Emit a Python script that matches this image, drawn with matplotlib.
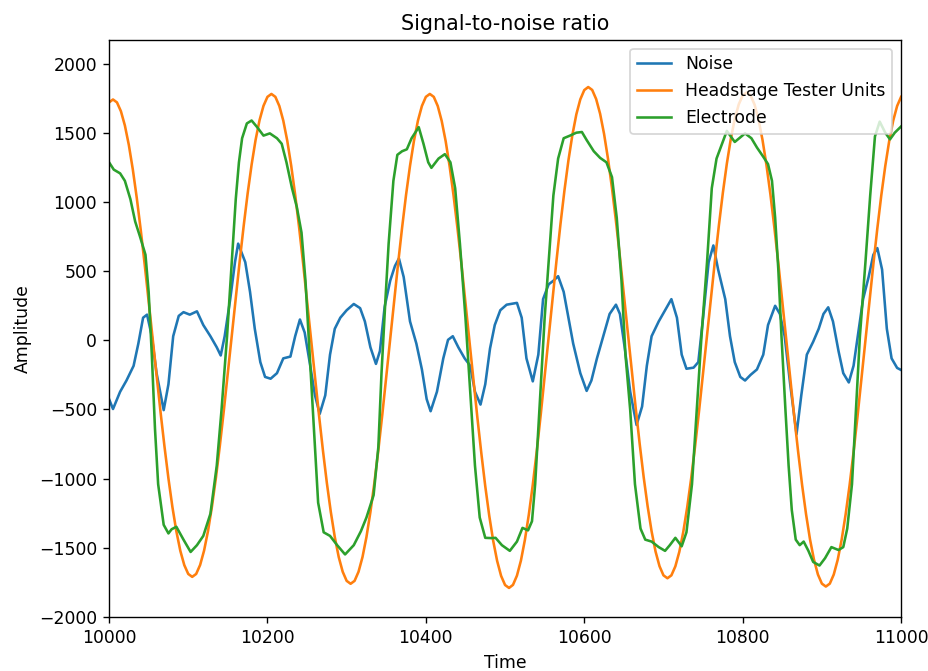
import numpy as np
import matplotlib
matplotlib.use("Agg")
import matplotlib.pyplot as plt

# Headstage tester units, sampled every 5 time units from 10000 to 11000
headstage_t = np.arange(10000, 11001, 5)
headstage = [
    1719,
    1740, 1719, 1655, 1552, 1411, 1235, 1029, 798, 548, 284, 15, -254, -518, -768, -999, -1205, -1381, -1522, -1625, -1689, -1710,
    -1689, -1624, -1520, -1377, -1199, -991, -757, -504, -237, 35, 307, 574, 827, 1061, 1269, 1447, 1590, 1694, 1759, 1780,
    1759, 1693, 1587, 1442, 1261, 1051, 814, 557, 286, 10, -266, -537, -794, -1031, -1241, -1422, -1567, -1673, -1739, -1760,
    -1739, -1673, -1567, -1422, -1241, -1031, -794, -537, -266, 10, 286, 557, 814, 1051, 1261, 1442, 1587, 1693, 1759, 1780,
    1759, 1693, 1585, 1439, 1257, 1045, 805, 547, 273, -5, -283, -557, -815, -1055, -1267, -1449, -1595, -1703, -1769, -1790,
    -1768, -1701, -1593, -1444, -1260, -1044, -802, -539, -262, 20, 302, 579, 842, 1084, 1300, 1484, 1633, 1741, 1808, 1830,
    1809, 1743, 1637, 1491, 1310, 1099, 861, 603, 332, 55, -222, -493, -751, -989, -1200, -1381, -1527, -1633, -1699, -1720,
    -1699, -1634, -1529, -1385, -1206, -997, -762, -507, -239, 35, 309, 577, 832, 1067, 1276, 1455, 1599, 1704, 1769, 1790,
    1769, 1703, 1595, 1449, 1267, 1055, 815, 557, 283, 5, -273, -547, -805, -1045, -1257, -1439, -1585, -1693, -1759, -1780,
    -1759, -1693, -1586, -1440, -1258, -1047, -808, -550, -278, 0, 278, 550, 808, 1047, 1258, 1440, 1586, 1693, 1759,
]

noise_t = [
    10000, 10005, 10014, 10022, 10031, 10037, 10043, 10048, 10054, 10060, 10069, 10075, 10081, 10088,
    10094, 10102, 10111, 10119, 10128, 10136, 10141, 10146, 10153, 10159, 10163, 10172, 10178, 10184,
    10191, 10197, 10204, 10212, 10220, 10229, 10235, 10241, 10247, 10254, 10260, 10266, 10273, 10279,
    10285, 10292, 10300, 10309, 10317, 10323, 10330, 10337, 10342, 10348, 10355, 10361, 10366, 10372,
    10380, 10388, 10395, 10401, 10406, 10414, 10422, 10428, 10434, 10441, 10449, 10456, 10462, 10469,
    10475, 10481, 10487, 10494, 10502, 10515, 10521, 10527, 10535, 10542, 10548, 10555, 10561, 10567,
    10574, 10580, 10586, 10595, 10603, 10609, 10616, 10624, 10632, 10640, 10645, 10651, 10658, 10666,
    10673, 10679, 10685, 10694, 10702, 10710, 10717, 10723, 10729, 10738, 10744, 10750, 10757, 10763,
    10769, 10778, 10784, 10790, 10797, 10803, 10810, 10818, 10826, 10832, 10841, 10847, 10853, 10860,
    10868, 10874, 10881, 10889, 10896, 10902, 10908, 10914, 10921, 10927, 10934, 10940, 10946, 10952,
    10959, 10965, 10970, 10976, 10982, 10988, 10995, 11000,
]
noise = [
    -425, -497, -372, -291, -185, -24, 163, 185, 29, -238, -505, -318, 29, 176,
    203, 185, 209, 110, 29, -51, -110, 29, 297, 564, 698, 564, 350, 83,
    -158, -265, -278, -238, -131, -118, 29, 150, 56, -184, -398, -532, -398, -104,
    83, 163, 217, 262, 232, 136, -51, -171, -78, 243, 431, 537, 591, 457,
    136, -24, -211, -425, -513, -372, -131, 3, 29, -51, -131, -184, -372, -465,
    -318, -60, 110, 217, 257, 270, 163, -131, -297, -104, 297, 404, 430, 463,
    350, 163, -24, -238, -366, -291, -131, 29, 190, 257, 190, -51, -372, -612,
    -479, -184, 29, 136, 217, 297, 163, -104, -206, -198, -158, 163, 564, 685,
    511, 297, 29, -158, -265, -291, -250, -211, -104, 110, 249, 190, 29, -318,
    -679, -398, -104, -11, 83, 190, 238, 136, -78, -238, -305, -184, 56, 297,
    457, 618, 666, 511, 83, -131, -200, -215,
]

electrode_t = [
    10000, 10006, 10014, 10020, 10027, 10033, 10039, 10046, 10050, 10054, 10058, 10062, 10069, 10075,
    10079, 10085, 10094, 10103, 10111, 10119, 10128, 10136, 10142, 10149, 10155, 10160, 10164, 10168,
    10174, 10180, 10187, 10195, 10203, 10212, 10218, 10224, 10231, 10237, 10243, 10248, 10252, 10256,
    10260, 10264, 10271, 10279, 10288, 10298, 10309, 10318, 10325, 10334, 10340, 10344, 10349, 10353,
    10359, 10364, 10370, 10376, 10382, 10391, 10397, 10403, 10407, 10416, 10424, 10431, 10437, 10443,
    10450, 10456, 10462, 10468, 10475, 10483, 10488, 10496, 10506, 10515, 10522, 10529, 10534, 10538,
    10542, 10546, 10550, 10555, 10561, 10567, 10574, 10582, 10590, 10597, 10603, 10612, 10620, 10628,
    10635, 10641, 10647, 10652, 10658, 10664, 10671, 10677, 10685, 10694, 10702, 10708, 10715, 10723,
    10729, 10736, 10742, 10748, 10755, 10761, 10767, 10774, 10780, 10790, 10803, 10811, 10818, 10826,
    10832, 10837, 10841, 10845, 10849, 10854, 10858, 10862, 10867, 10872, 10877, 10883, 10889, 10897,
    10904, 10912, 10921, 10927, 10932, 10938, 10943, 10948, 10955, 10961, 10967, 10973, 10980, 10986,
    10992, 11000,
]
electrode = [
    1286, 1233, 1206, 1152, 1019, 858, 751, 618, 350, -104, -639, -1040, -1334, -1396,
    -1366, -1348, -1441, -1530, -1481, -1414, -1254, -906, -505, 29, 564, 1020, 1286, 1460,
    1567, 1588, 1540, 1479, 1495, 1460, 1420, 1286, 1099, 965, 778, 430, 29, -372,
    -773, -1174, -1388, -1414, -1481, -1548, -1481, -1380, -1281, -1120, -773, -238, 297, 698,
    1152, 1340, 1366, 1380, 1460, 1540, 1420, 1286, 1246, 1313, 1345, 1286, 1099, 698,
    163, -372, -906, -1281, -1428, -1430, -1428, -1481, -1522, -1455, -1356, -1374, -1308, -1040,
    -639, -238, 163, 564, 1046, 1313, 1460, 1479, 1500, 1505, 1447, 1366, 1318, 1286,
    1179, 885, 430, -104, -505, -1040, -1361, -1441, -1455, -1495, -1522, -1481, -1428, -1489,
    -1388, -1040, -505, 29, 564, 1099, 1313, 1420, 1513, 1433, 1495, 1460, 1393, 1326,
    1273, 1152, 885, 511, 29, -505, -906, -1227, -1441, -1481, -1455, -1522, -1602, -1628,
    -1575, -1495, -1516, -1495, -1361, -1040, -505, 29, 564, 1046, 1473, 1580, 1500, 1452,
    1500, 1545,
]

dpi = 124
fig = plt.figure(figsize=(928 / dpi, 671 / dpi), dpi=dpi)
ax = fig.add_subplot(111)
fig.subplots_adjust(left=0.1175, right=0.971, top=0.9404, bottom=0.0805)

ax.plot(noise_t, noise, label='Noise')
ax.plot(headstage_t, headstage, label='Headstage Tester Units')
ax.plot(electrode_t, electrode, label='Electrode')

ax.set_xlim(10000, 11000)
ax.set_ylim(-2000, 2170)
ax.set_title('Signal-to-noise ratio')
ax.set_xlabel('Time')
ax.set_ylabel('Amplitude')
ax.legend(loc='upper right')

fig.savefig('out.png', dpi=dpi)
